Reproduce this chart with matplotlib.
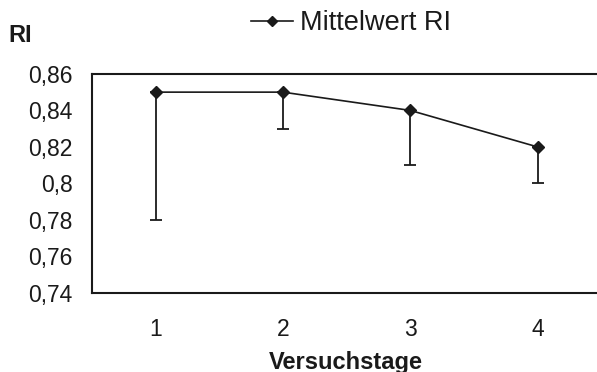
import matplotlib

matplotlib.use("Agg")
import matplotlib.pyplot as plt
import numpy as np

# data
days = [1, 2, 3, 4]
day_labels = ["1", "2", "3", "4"]
mean_ri = [0.85, 0.85, 0.84, 0.82]
lower_ri = [0.78, 0.83, 0.81, 0.80]
y_ticks = [0.74, 0.76, 0.78, 0.80, 0.82, 0.84, 0.86]
y_tick_labels = ["0,74", "0,76", "0,78", "0,8", "0,82", "0,84", "0,86"]

plt.rcParams["font.family"] = ["Liberation Sans", "DejaVu Sans"]
ink = "#1a1a1a"

fig = plt.figure(figsize=(5.97, 3.72), dpi=100)
# right spine sits just past the image edge, as in the reference
ax = fig.add_axes([0.154, 0.2124, 0.853, 0.589])

# error bars only go downward
err_low = np.array(mean_ri) - np.array(lower_ri)
err = [err_low, np.zeros_like(err_low)]
ax.errorbar(days, mean_ri, yerr=err, fmt="none", ecolor=ink, elinewidth=1.3,
            capsize=4.5, capthick=1.3)
ax.plot(days, mean_ri, color=ink, lw=1.2, marker="D", markersize=6.5,
        label="Mittelwert RI")

ax.set_xlim(0.5, 4.5)
ax.set_ylim(0.74, 0.86)
ax.set_xticks(days)
ax.set_xticklabels(day_labels)
ax.set_yticks(y_ticks)
ax.set_yticklabels(y_tick_labels)
ax.tick_params(length=0, labelsize=16.5, colors=ink)
ax.tick_params(axis="y", pad=14)
ax.tick_params(axis="x", pad=18)
for s in ax.spines.values():
    s.set_color(ink)
    s.set_linewidth(1.5)

ax.set_xlabel("Versuchstage", fontsize=17, fontweight="bold", color=ink, va="center")
ax.xaxis.set_label_coords((346 - 92) / 509, -0.315)
fig.text(8 / 597, 1 - 35 / 372, "RI", fontsize=17, fontweight="bold",
         color=ink, va="center", ha="left")

leg = ax.legend(loc="center left", bbox_to_anchor=(251 / 597, 1 - 23 / 372),
                bbox_transform=fig.transFigure, frameon=False, fontsize=19.5,
                handlelength=1.55, handletextpad=0.26, borderpad=0,
                borderaxespad=0, markerscale=0.8)
for t in leg.get_texts():
    t.set_color(ink)

fig.savefig("out.png", dpi=100)
